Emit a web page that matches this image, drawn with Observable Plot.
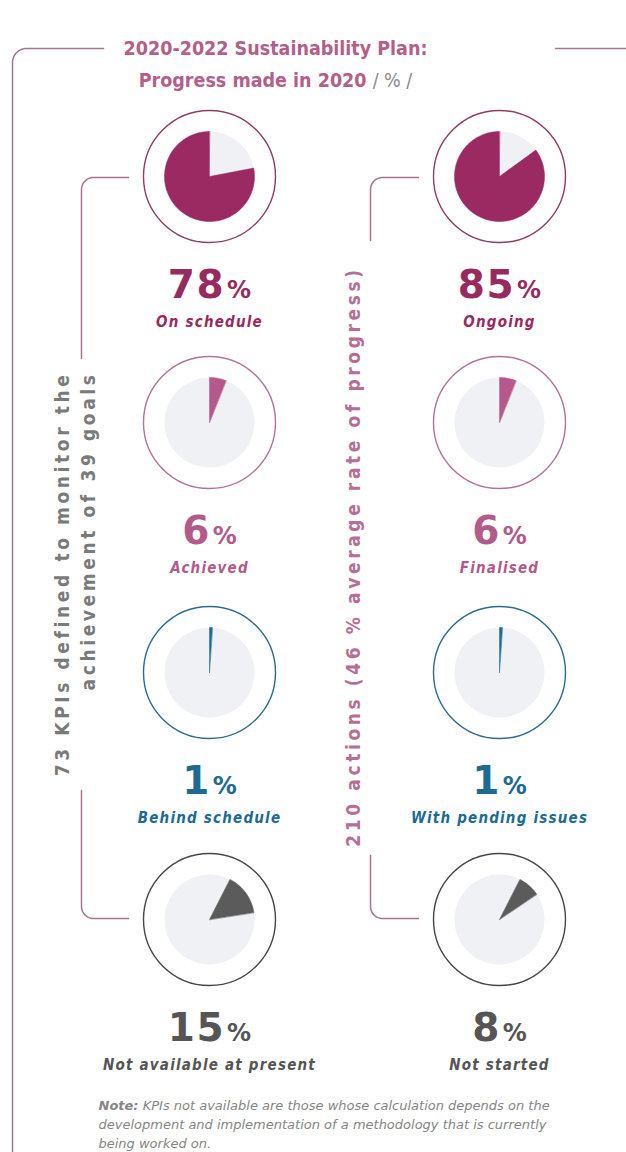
<!DOCTYPE html>
<html>
<head>
<meta charset="utf-8">
<script src="https://cdn.jsdelivr.net/npm/d3@7"></script>
<script src="https://cdn.jsdelivr.net/npm/@observablehq/plot@0.6"></script>
<style>
  html, body { margin: 0; padding: 0; background: #fff; }
  #chart svg { display: block; }
</style>
</head>
<body>
<div id="chart"></div>
<script>
// ---------------- DATA ----------------
const titleLines = ["2020-2022 Sustainability Plan:", "Progress made in 2020 / % /"];
const kpiCategories = ["On schedule", "Achieved", "Behind schedule", "Not available at present"];
const kpiValues = [78, 6, 1, 15];
const actionCategories = ["Ongoing", "Finalised", "With pending issues", "Not started"];
const actionValues = [85, 6, 1, 8];
const kpiCaption = ["73 KPIs defined to monitor the", "achievement of 39 goals"];
const actionCaption = "210 actions (46 % average rate of progress)";
const noteLines = [
  "Note: KPIs not available are those whose calculation depends on the",
  "development and implementation of a methodology that is currently",
  "being worked on."
];

// ---------------- LAYOUT / STYLE ----------------
const W = 626, H = 1152;
const colX = [209, 499];
const rowY = [176, 422, 672, 919];
const ringR = 66, pieR = 45;
const wedgeColors = ["#9a2a61", "#b5588b", "#1d6a92", "#5b5b5b"];
const ringColors = ["#8e3d67", "#b2739a", "#2b6c8f", "#474747"];
const textColors = ["#972b60", "#b25a8a", "#1d6a92", "#555555"];
// how each row's wedge is placed: "end" = wedge ends at 12 o'clock, otherwise start angle (deg)
const rowWedgeMode = ["end", 0, 0, 27];
const lineColor = "#a8738f";
const condensed = "DejaVu Sans Condensed, DejaVu Sans";

const items = [];
[[kpiCategories, kpiValues], [actionCategories, actionValues]].forEach(([cats, vals], c) => {
  cats.forEach((cat, r) => items.push({cat, value: vals[r], col: c, row: r, cx: colX[c], cy: rowY[r]}));
});

// wedge polygons derived from the values
const wedgePts = [];
items.forEach((d, i) => {
  const sweep = d.value / 100 * 360;
  const mode = rowWedgeMode[d.row];
  const a0 = mode === "end" ? 360 - sweep : mode;
  const a1 = a0 + sweep;
  const n = Math.max(2, Math.ceil(sweep / 1.5));
  wedgePts.push({id: i, x: d.cx, y: d.cy, row: d.row});
  for (let k = 0; k <= n; k++) {
    const a = (a0 + (a1 - a0) * k / n) * Math.PI / 180;
    wedgePts.push({id: i, x: d.cx + pieR * Math.sin(a), y: d.cy - pieR * Math.cos(a), row: d.row});
  }
});

// frame and bracket lines (rounded corners)
function arc(cx, cy, r, t0, t1, id, out) {
  const n = 12;
  for (let k = 0; k <= n; k++) {
    const t = (t0 + (t1 - t0) * k / n) * Math.PI / 180;
    out.push({id, x: cx + r * Math.cos(t), y: cy + r * Math.sin(t)});
  }
}
const framePts = [];
framePts.push({id: "f1", x: 103, y: 48});
arc(26, 62, 14, 270, 180, "f1", framePts);
framePts.push({id: "f1", x: 12, y: H + 5});
framePts.push({id: "f2", x: 555, y: 48}, {id: "f2", x: W + 5, y: 48});
// left bracket
framePts.push({id: "lb1", x: 128, y: 177});
arc(93, 189, 12, 270, 180, "lb1", framePts);
framePts.push({id: "lb1", x: 81, y: 358});
framePts.push({id: "lb2", x: 81, y: 790});
arc(93, 906, 12, 180, 90, "lb2", framePts);
framePts.push({id: "lb2", x: 128, y: 918});
// right bracket
framePts.push({id: "rb1", x: 418, y: 177});
arc(382, 189, 12, 270, 180, "rb1", framePts);
framePts.push({id: "rb1", x: 370, y: 240});
framePts.push({id: "rb2", x: 370, y: 855});
arc(382, 906, 12, 180, 90, "rb2", framePts);
framePts.push({id: "rb2", x: 418, y: 918});

const marks = [
  Plot.line(framePts, {x: "x", y: "y", z: "id", stroke: lineColor, strokeWidth: 1.5}),
  Plot.dot(items, {x: "cx", y: "cy", r: pieR, fill: "#eff1f5", stroke: "none"}),
  Plot.dot(items, {x: "cx", y: "cy", r: ringR, fill: "none", stroke: d => ringColors[d.row], strokeWidth: 1.4}),
];
items.forEach((d, i) => {
  marks.push(Plot.line(wedgePts.filter(p => p.id === i), {x: "x", y: "y", curve: "linear-closed", fill: wedgeColors[d.row], stroke: wedgeColors[d.row], strokeWidth: 0.5}));
});
marks.push(
  Plot.text(items, {x: "cx", y: d => d.cy + 121, text: d => d.value + "%", fill: d => textColors[d.row],
    fontFamily: "DejaVu Sans", fontWeight: "bold", fontSize: 39, lineAnchor: "bottom"}),
  Plot.text(items, {x: "cx", y: d => d.cy + 150, text: "cat", fill: d => textColors[d.row],
    fontFamily: condensed, fontWeight: "bold", fontStyle: "italic", fontSize: 15, lineAnchor: "bottom"}),
  Plot.text(titleLines, {x: 275, y: (d, i) => 54 + i * 32, text: d => d, fill: "#b35f8a",
    fontFamily: condensed, fontWeight: "bold", fontSize: 19.5, lineAnchor: "bottom"}),
  Plot.text(kpiCaption, {x: (d, i) => [62, 88][i], y: 371, text: d => d, rotate: -90, textAnchor: "end",
    fill: "#7a7a7a", fontFamily: condensed, fontWeight: "bold", fontSize: 19}),
  Plot.text([actionCaption], {x: 353, y: 556, text: d => d, rotate: -90, textAnchor: "middle",
    fill: "#b56f96", fontFamily: condensed, fontWeight: "bold", fontSize: 19}),
  Plot.text(noteLines, {x: 98, y: (d, i) => 1109 + i * 19, text: d => d, textAnchor: "start", fill: "#858585",
    fontFamily: "DejaVu Sans", fontStyle: "italic", fontSize: 13, lineAnchor: "bottom"})
);

const svg = Plot.plot({
  width: W, height: H, margin: 0,
  x: {domain: [0, W], range: [0, W], axis: null},
  y: {domain: [0, H], range: [0, H], axis: null},
  style: {background: "#fff", overflow: "hidden"},
  marks
});

const s = d3.select(svg);
const labelSet = new Set([...kpiCategories, ...actionCategories]);
const captionSet = new Set([...kpiCaption, actionCaption]);
s.selectAll("text").each(function() {
  const el = d3.select(this);
  const t = this.textContent;
  if (/^\d+%$/.test(t)) {
    this.textContent = t.slice(0, -1);
    el.style("letter-spacing", "1.5px");
    el.append("tspan").attr("font-size", 24).attr("dx", 2).style("letter-spacing", "0px").text("%");
  } else if (labelSet.has(t)) {
    el.style("letter-spacing", "1.2px");
  } else if (captionSet.has(t)) {
    el.style("letter-spacing", "3.6px");
  } else if (t === titleLines[1]) {
    const k = t.indexOf(" / % /");
    this.textContent = t.slice(0, k + 1);
    el.append("tspan").attr("fill", "#8a8a8a").attr("font-weight", "normal").text("/ % /");
  } else if (t === noteLines[0]) {
    this.textContent = "";
    el.append("tspan").attr("font-weight", "bold").text("Note:");
    el.append("tspan").text(t.slice(5));
  }
});

document.getElementById("chart").appendChild(svg);
</script>
</body>
</html>
